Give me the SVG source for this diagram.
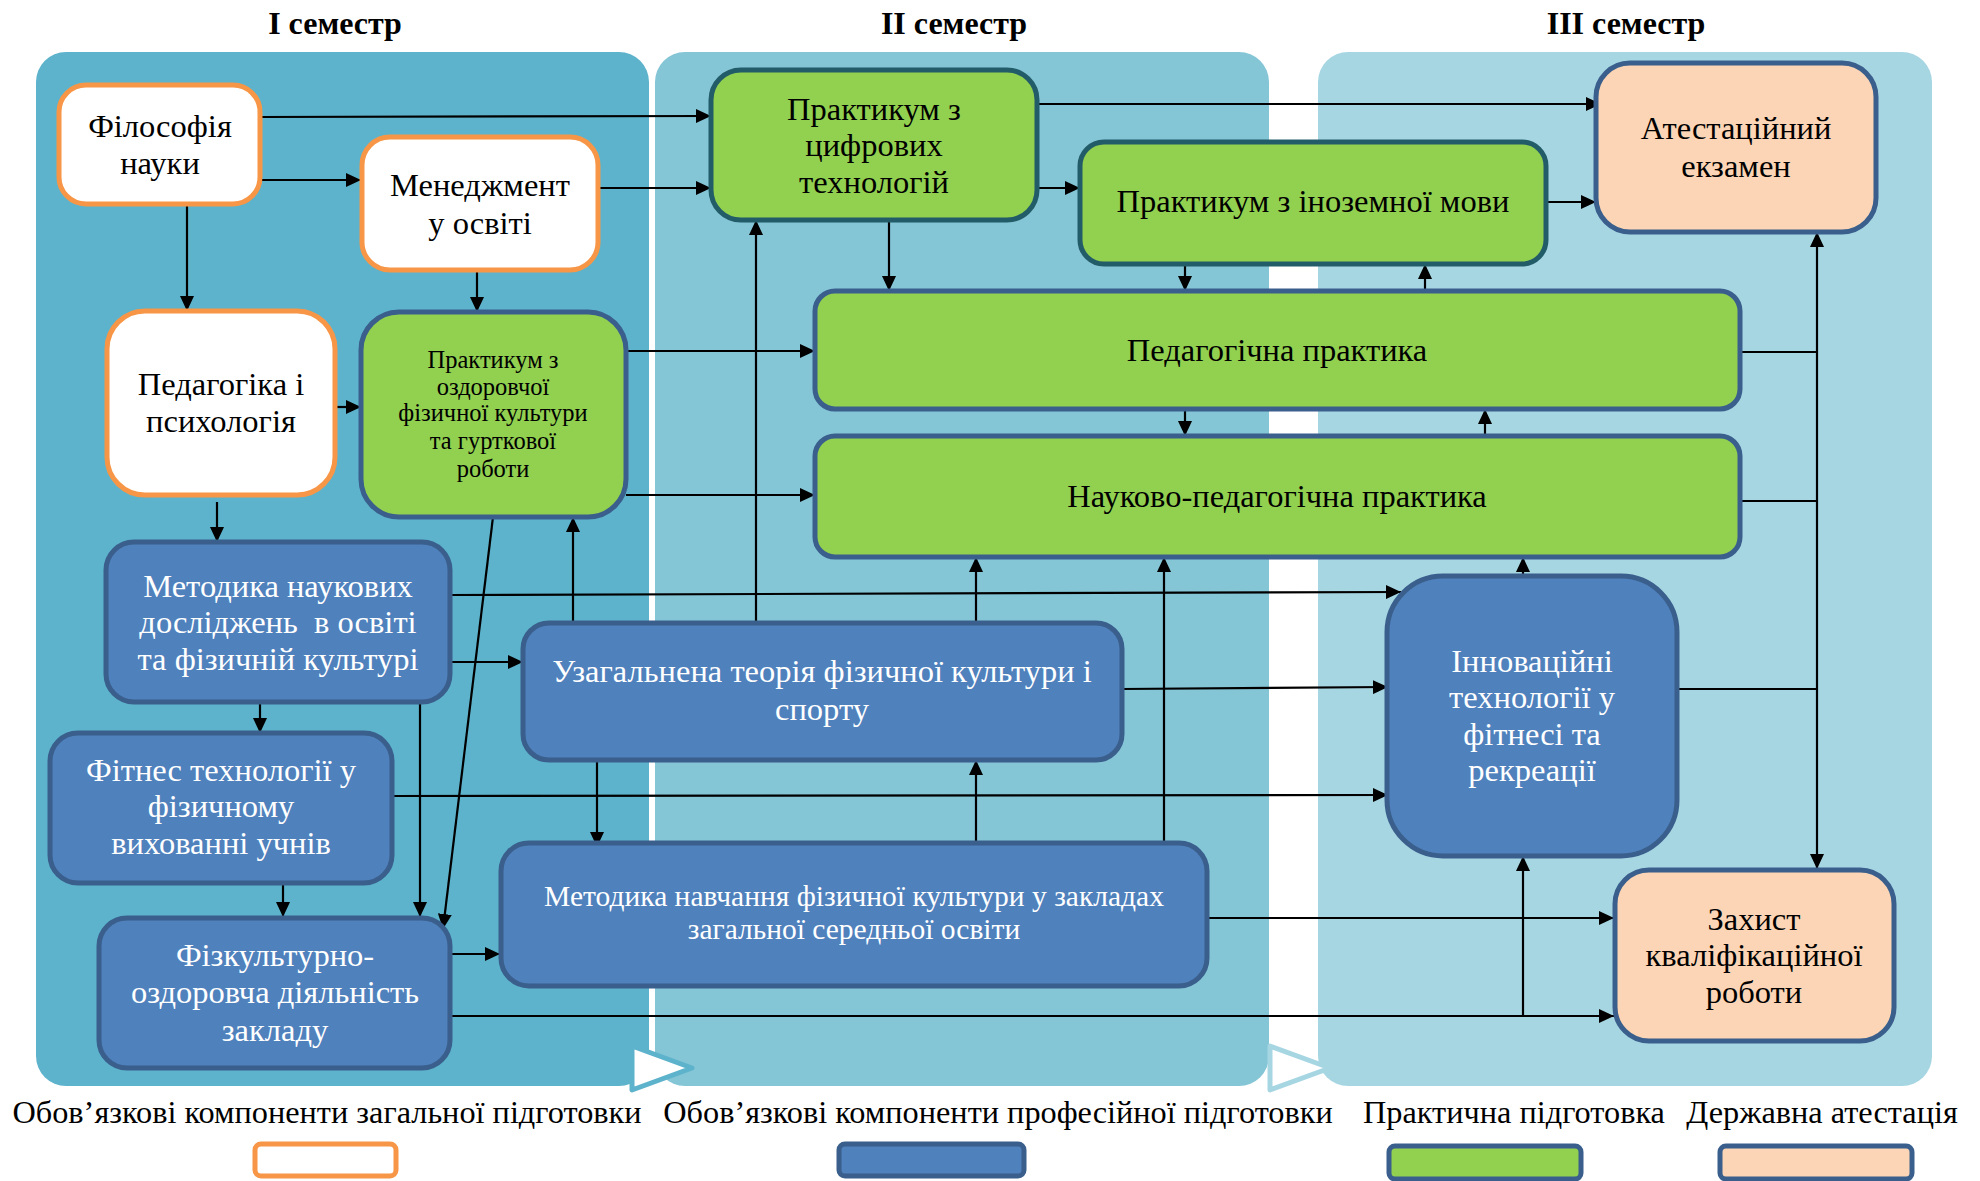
<svg xmlns="http://www.w3.org/2000/svg" width="1980" height="1181" viewBox="0 0 1980 1181">
<style>
text{font-family:"Liberation Serif","Times New Roman",serif;text-anchor:middle}
.t{font-size:32px;font-weight:bold;fill:#000}
.n{font-size:32.5px;fill:#000}
.w{font-size:32.5px;fill:#fff}
.s{font-size:24.5px;fill:#000}
.m{font-size:29.5px;fill:#fff}
.lg{font-size:32.3px;fill:#000}
.gen{fill:#fff;stroke:#f79646;stroke-width:5}
.pro{fill:#4f81bd;stroke:#3a5f8c;stroke-width:5}
.pr{fill:#92d050;stroke:#3a5f8c;stroke-width:5}
.prd{fill:#92d050;stroke:#235c69;stroke-width:5}
.att{fill:#fbd5b5;stroke:#3a5f8c;stroke-width:5}
.c{fill:none;stroke:#000;stroke-width:2.2}
.a{marker-end:url(#ah)}
</style>
<defs>
<marker id="ah" markerUnits="userSpaceOnUse" markerWidth="16" markerHeight="14" refX="15" refY="7" orient="auto">
<path d="M0,0 L15,7 L0,14 z" fill="#000"/>
</marker>
<marker id="ahs" markerUnits="userSpaceOnUse" markerWidth="16" markerHeight="14" refX="15" refY="7" orient="auto-start-reverse">
<path d="M0,0 L15,7 L0,14 z" fill="#000"/>
</marker>
</defs>
<rect width="1980" height="1181" fill="#fff"/>
<g id="titles">
<text class="t" x="335" y="34">І семестр</text>
<text class="t" x="954" y="34">ІІ семестр</text>
<text class="t" x="1626" y="34">ІІІ семестр</text>
</g>
<g id="panels">
<rect x="36" y="52" width="613" height="1034" rx="30" fill="#5db3cb"/>
<rect x="655" y="52" width="614" height="1034" rx="30" fill="#84c5d6"/>
<rect x="1318" y="52" width="614" height="1034" rx="30" fill="#a7d6e3"/>
<polygon points="632,1046 692,1068 632,1090" fill="#fff" stroke="#5db3cb" stroke-width="5" stroke-linejoin="round"/>
<polygon points="1270,1046 1330,1068 1270,1090" fill="#fff" stroke="#a7d6e3" stroke-width="5" stroke-linejoin="round"/>
</g>
<g id="connectors">
<path class="c a" d="M260,117 L711,116"/>
<path class="c a" d="M260,180 L361,180"/>
<path class="c a" d="M187,202 L187,311"/>
<path class="c a" d="M598,188 L711,188"/>
<path class="c a" d="M477,270 L477,312"/>
<path class="c a" d="M335,407 L361,407"/>
<path class="c a" d="M217,502 L217,542"/>
<path class="c a" d="M626,351 L815,351"/>
<path class="c a" d="M626,495 L815,495"/>
<path class="c a" d="M493,517 L443,929"/>
<path class="c a" d="M573,623 L573,517"/>
<path class="c a" d="M756,623 L756,220"/>
<path class="c a" d="M1037,188 L1080,188"/>
<path class="c a" d="M1037,104 L1601,104"/>
<path class="c a" d="M889,220 L889,291"/>
<path class="c a" d="M1185,264 L1185,291"/>
<path class="c a" d="M1546,202 L1596,202"/>
<path class="c a" d="M1185,409 L1185,436"/>
<path class="c a" d="M1425,291 L1425,264"/>
<path class="c a" d="M1485,436 L1485,409"/>
<path class="c" d="M1740,352 L1817,352"/>
<path class="c" d="M1740,501 L1817,501"/>
<path class="c" d="M1677,689 L1817,689"/>
<path class="c" d="M1817,232 L1817,869" marker-start="url(#ahs)" marker-end="url(#ah)"/>
<path class="c a" d="M1523,576 L1523,557"/>
<path class="c a" d="M450,595 L1401,592"/>
<path class="c a" d="M450,662 L523,662"/>
<path class="c a" d="M260,702 L260,733"/>
<path class="c a" d="M420,702 L420,917"/>
<path class="c a" d="M392,796 L1388,795"/>
<path class="c a" d="M283,883 L283,917"/>
<path class="c a" d="M450,954 L500,954"/>
<path class="c a" d="M450,1016 L1614,1016"/>
<path class="c a" d="M1523,1016 L1523,856"/>
<path class="c a" d="M1122,689 L1388,687"/>
<path class="c a" d="M597,760 L597,847"/>
<path class="c a" d="M976,623 L976,557"/>
<path class="c a" d="M976,843 L976,760"/>
<path class="c a" d="M1164,843 L1164,557"/>
<path class="c a" d="M1207,918 L1614,918"/>
</g>
<g id="n1"><rect class="gen" x="59" y="85" width="201" height="119" rx="27"/><text class="n" x="160" y="137">Філософія</text><text class="n" x="160" y="174">науки</text></g>
<g id="n2"><rect class="gen" x="362" y="137" width="236" height="133" rx="28"/><text class="n" x="480" y="196">Менеджмент</text><text class="n" x="480" y="234">у освіті</text></g>
<g id="n3"><rect class="gen" x="107" y="311" width="228" height="184" rx="38"/><text class="n" x="221" y="395">Педагогіка і</text><text class="n" x="221" y="432">психологія</text></g>
<g id="n4"><rect class="pr" x="361" y="312" width="265" height="205" rx="38"/><text class="s" x="493" y="368">Практикум з</text><text class="s" x="493" y="395">оздоровчої</text><text class="s" x="493" y="421">фізичної культури</text><text class="s" x="493" y="449">та гурткової</text><text class="s" x="493" y="477">роботи</text></g>
<g id="n5"><rect class="pro" x="106" y="542" width="344" height="160" rx="28"/><text class="w" x="278" y="597">Методика наукових</text><text class="w" x="278" y="633" style="white-space:pre">досліджень  в освіті</text><text class="w" x="278" y="670">та фізичній культурі</text></g>
<g id="n6"><rect class="pro" x="50" y="733" width="342" height="150" rx="28"/><text class="w" x="221" y="781">Фітнес технології у</text><text class="w" x="221" y="817">фізичному</text><text class="w" x="221" y="854">вихованні учнів</text></g>
<g id="n7"><rect class="pro" x="99" y="918" width="351" height="150" rx="28"/><text class="w" x="275" y="966">Фізкультурно-</text><text class="w" x="275" y="1003">оздоровча діяльність</text><text class="w" x="275" y="1041">закладу</text></g>
<g id="n8"><rect class="prd" x="711" y="70" width="326" height="150" rx="30"/><text class="n" x="874" y="120">Практикум з</text><text class="n" x="874" y="156">цифрових</text><text class="n" x="874" y="193">технологій</text></g>
<g id="n9"><rect class="prd" x="1080" y="142" width="466" height="122" rx="24"/><text class="n" x="1313" y="212">Практикум з іноземної мови</text></g>
<g id="n10"><rect class="pr" x="815" y="291" width="925" height="118" rx="20"/><text class="n" x="1277" y="361">Педагогічна практика</text></g>
<g id="n11"><rect class="pr" x="815" y="436" width="925" height="121" rx="20"/><text class="n" x="1277" y="507">Науково-педагогічна практика</text></g>
<g id="n12"><rect class="pro" x="523" y="623" width="599" height="137" rx="26"/><text class="w" x="822" y="682">Узагальнена теорія фізичної культури і</text><text class="w" x="822" y="720">спорту</text></g>
<g id="n13"><rect class="pro" x="501" y="843" width="706" height="143" rx="28"/><text class="m" x="854" y="906">Методика навчання фізичної культури у закладах</text><text class="m" x="854" y="939">загальної середньої освіти</text></g>
<g id="n14"><rect class="att" x="1596" y="63" width="280" height="169" rx="34"/><text class="n" x="1736" y="139">Атестаційний</text><text class="n" x="1736" y="177">екзамен</text></g>
<g id="n15"><rect class="pro" x="1387" y="576" width="290" height="280" rx="56"/><text class="w" x="1532" y="672">Інноваційні</text><text class="w" x="1532" y="708">технології у</text><text class="w" x="1532" y="745">фітнесі та</text><text class="w" x="1532" y="781">рекреації</text></g>
<g id="n16"><rect class="att" x="1615" y="870" width="279" height="171" rx="34"/><text class="n" x="1754" y="930">Захист</text><text class="n" x="1754" y="966">кваліфікаційної</text><text class="n" x="1754" y="1003">роботи</text></g>
<g id="legend">
<text class="lg" x="327" y="1123">Обов’язкові компоненти загальної підготовки</text>
<text class="lg" x="998" y="1123">Обов’язкові компоненти професійної підготовки</text>
<text class="lg" x="1514" y="1123">Практична підготовка</text>
<text class="lg" x="1822" y="1123">Державна атестація</text>
<rect class="gen" x="255" y="1144" width="141" height="32" rx="6"/>
<rect class="pro" x="839" y="1144" width="185" height="32" rx="6"/>
<rect class="pr" x="1389" y="1146" width="192" height="33" rx="6"/>
<rect class="att" x="1720" y="1146" width="192" height="33" rx="6"/>
</g>
</svg>
